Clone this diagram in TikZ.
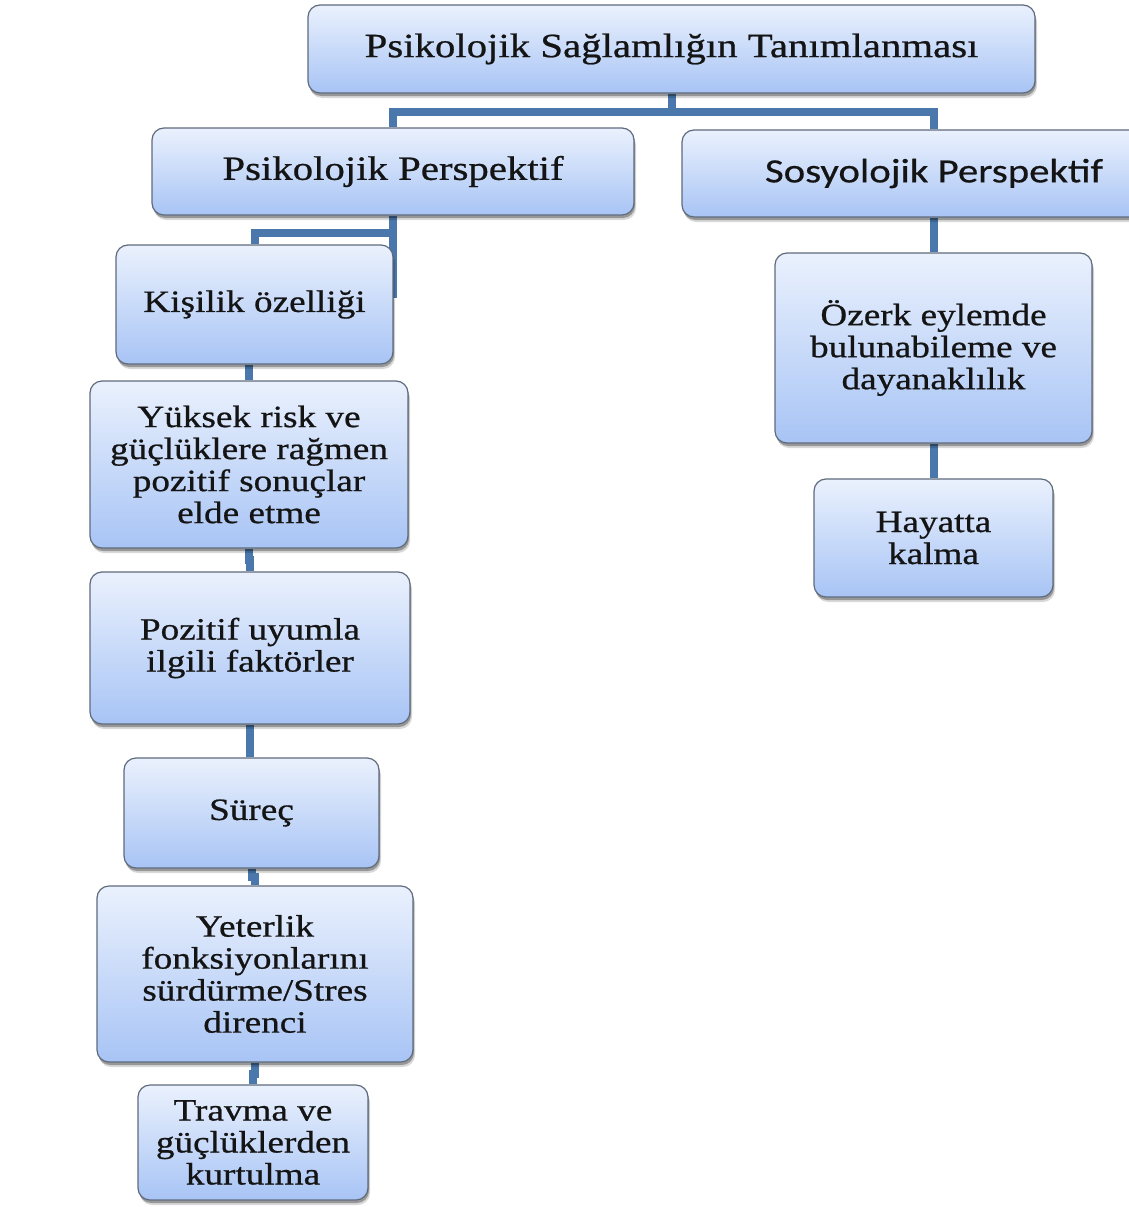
\documentclass[tikz,border=0pt]{standalone}
\usepackage{fontspec}
\setmainfont{Liberation Serif}[FakeStretch=1.2,FakeBold=0.7]
\newfontfamily\calfont{Carlito}[FakeStretch=1.2,FakeBold=0.5]
\usetikzlibrary{shadows,calc}
\pgfdeclarelayer{bottomlayer}
\pgfdeclarelayer{background}
\pgfsetlayers{bottomlayer,background,main}
\definecolor{linec}{RGB}{74,120,172}
\definecolor{boxtop}{RGB}{234,241,253}
\definecolor{boxbot}{RGB}{168,196,245}
\definecolor{boxedge}{RGB}{95,107,125}
\tikzset{
  box/.style={draw=boxedge, line width=1.2pt, rounded corners=12pt,
    top color=boxtop, bottom color=boxbot,
    drop shadow={shadow xshift=2pt, shadow yshift=-5pt, opacity=0.15, fill=black},
    drop shadow={shadow xshift=1pt, shadow yshift=-3pt, opacity=0.3, fill=black},
    inner sep=0pt, align=center, text=black!92,
    font=\fontsize{31}{32}\selectfont},
  bigtext/.style={font=\fontsize{34}{38}\selectfont},
  conn/.style={draw=linec, line width=8pt}
}
\begin{document}
\begin{tikzpicture}[x=1pt,y=-1pt]
\begin{pgfonlayer}{bottomlayer}
\fill[white] (0,0) rectangle (1129,1207);
\end{pgfonlayer}
\useasboundingbox (0,0) rectangle (1129,1207);

\node[box, bigtext, minimum width=727pt, minimum height=88pt] (top) at (671.5,49) {Psikolojik Sağlamlığın Tanımlanması};
\node[box, bigtext, minimum width=482pt, minimum height=87pt] (pp) at (393,171.5) {Psikolojik Perspektif};
\node[box, font=\calfont\fontsize{34}{38}\selectfont, minimum width=504pt, minimum height=87pt] (sp) at (934,173.5) {Sosyolojik Perspektif};

\node[box, minimum width=277pt, minimum height=119pt] (kis) at (254.5,304.5) {Kişilik özelliği};
\node[box, minimum width=318pt, minimum height=167pt] (yuk) at (249,464.5) {Yüksek risk ve\\güçlüklere rağmen\\pozitif sonuçlar\\elde etme};
\node[box, minimum width=320pt, minimum height=152pt] (poz) at (250,648) {Pozitif uyumla\\ilgili faktörler};
\node[box, minimum width=255pt, minimum height=110pt] (sur) at (251.5,813) {Süreç};
\node[box, minimum width=316pt, minimum height=176pt] (yet) at (255,974) {Yeterlik\\fonksiyonlarını\\sürdürme/Stres\\direnci};
\node[box, minimum width=230pt, minimum height=115pt] (tra) at (253,1142.5) {Travma ve\\güçlüklerden\\kurtulma};

\node[box, minimum width=317pt, minimum height=190pt] (oz) at (933.5,348) {Özerk eylemde\\bulunabileme ve\\dayanaklılık};
\node[box, minimum width=239pt, minimum height=118pt] (hay) at (933.5,538) {Hayatta\\kalma};

\coordinate (ppend) at (393,298);

\begin{pgfonlayer}{background}
\draw[conn] (top.south) -- ++(0,18) coordinate (bar) -| (pp.north);
\draw[conn] (bar) -| (sp.north);
\draw[conn] (pp.south) -- ++(0,17) -| (kis.north);
\draw[conn] (pp.south) -- (ppend);
\draw[conn] (yuk.north |- kis.south) -- (yuk.north);
\foreach \a/\b in {yuk/poz, sur/yet, yet/tra}{
  \draw[conn] (\a.south) |- ($(\a.south)!.5!(\b.north)$) -| (\b.north);
}
\draw[conn] (poz.south) -- (poz.south |- sur.north);
\draw[conn] (sp.south) -- (sp.south |- oz.north);
\draw[conn] (oz.south) -- (oz.south |- hay.north);
\end{pgfonlayer}
\end{tikzpicture}
\end{document}
